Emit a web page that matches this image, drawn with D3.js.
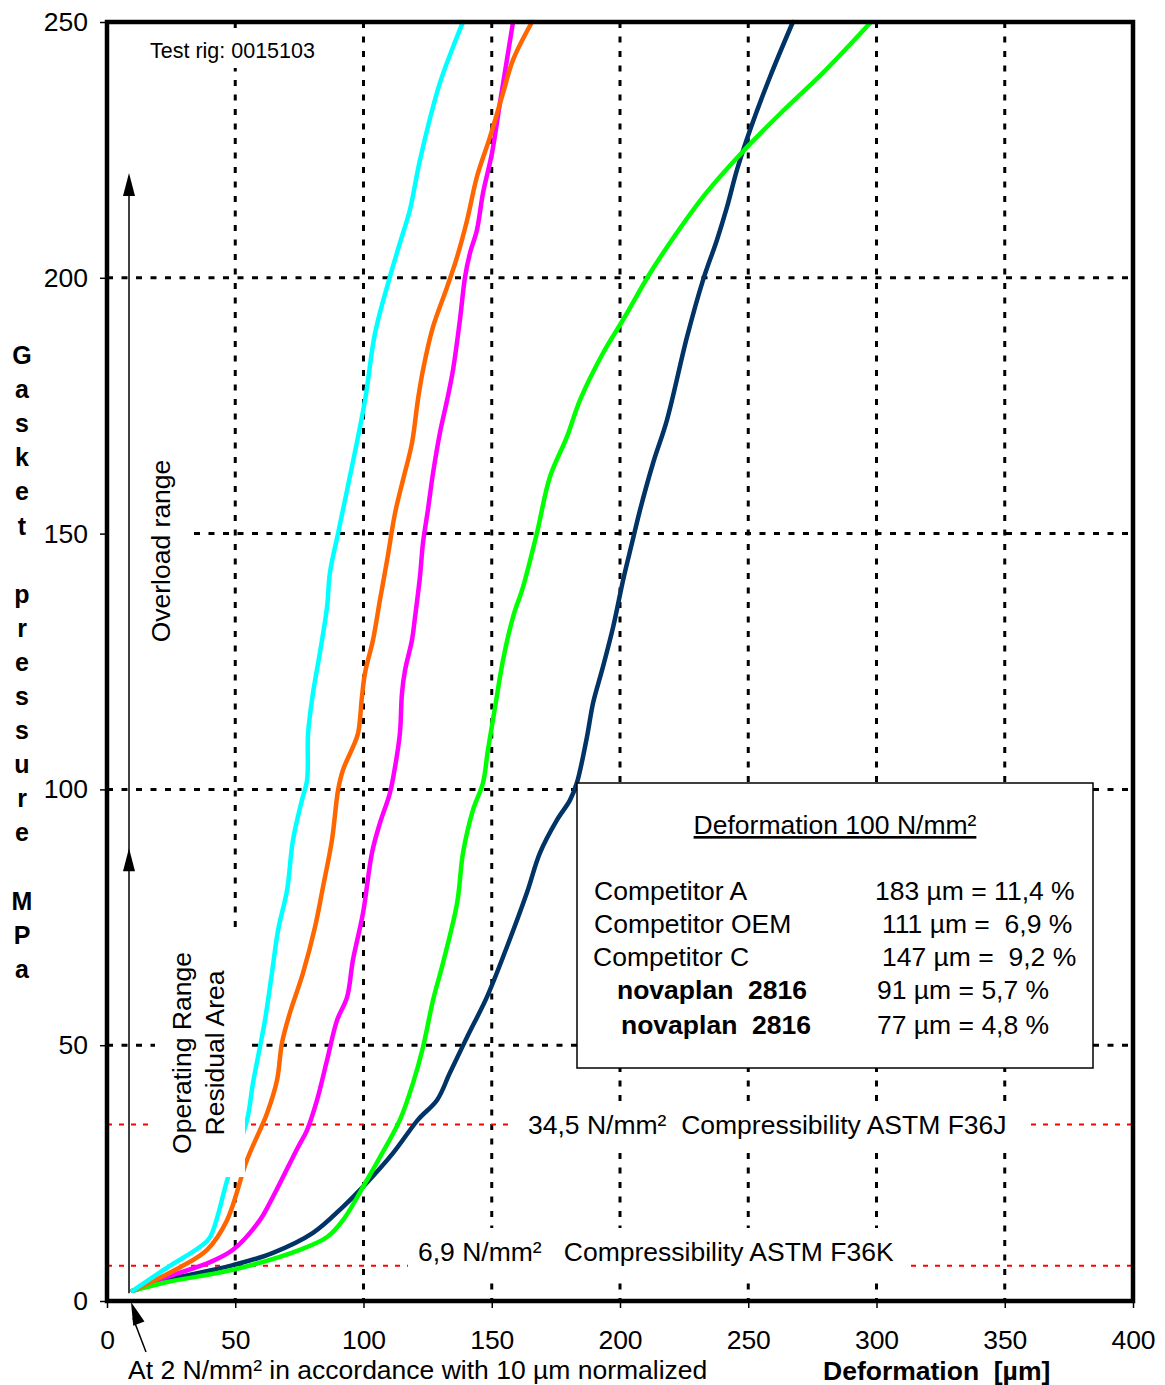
<!DOCTYPE html>
<html>
<head>
<meta charset="utf-8">
<script src="https://cdn.jsdelivr.net/npm/d3@7"></script>
<style>
  body { margin: 0; background: #fff; }
  svg text { font-family: "Liberation Sans", Arial, sans-serif; fill: #000; white-space: pre; }
</style>
</head>
<body>
<svg id="chart" width="1165" height="1385"></svg>
<script>
// deformation [µm] / gasket pressure [MPa]
var competitorA = [[10,2],[23.4,4.1],[49.1,7.0],[64.7,9.4],[80.3,13.3],[92.0,18.4],[99.8,22.3],[111.5,28.9],[121.2,35.4],[128.7,39.3],[133.7,44.6],[140.4,51.6],[148.1,59.4],[155.9,69.2],[163.7,79.8],[168.8,87.6],[175.4,94.0],[180.5,97.9],[183.2,101.3],[187.1,110.2],[189.5,116.9],[193.0,123.3],[197.3,131.7],[201.2,140.9],[204.7,148.2],[207.8,154.6],[212.9,163.8],[218.3,172.2],[226.1,188.4],[232.4,199.6],[237.8,207.4],[241.7,213.8],[245.6,221.1],[250.7,228.9],[258.5,239.3],[267.4,250]];
var competitorOEM = [[10,2],[23.4,4.7],[40.2,7.6],[49.1,10.0],[59.6,15.8],[63.5,19.2],[74.5,30.1],[78.0,33.4],[81.9,39.3],[85.8,47.1],[89.7,54.9],[93.6,59.4],[95.9,66.7],[99.8,75.8],[103.3,87.6],[106.4,93.4],[110.3,99.3],[112.3,104.4],[114.2,111.0],[115.0,118.8],[116.2,123.3],[118.9,129.2],[120.1,133.7],[122.0,141.5],[123.2,148.2],[125.1,154.6],[127.1,161.8],[129.8,169.7],[132.6,176.1],[134.9,182.0],[137.6,191.8],[139.6,200.2],[141.5,204.8],[144.2,209.3],[146.6,216.6],[150.1,224.4],[153.2,234.2],[155.9,242.6],[158.3,250]];
var competitorC = [[10,2],[23.4,3.7],[49.1,6.1],[75.2,10.0],[85.8,12.5],[92.0,15.8],[101.4,23.7],[106.4,28.1],[114.2,35.4],[119.3,42.6],[123.2,49.6],[127.1,58.8],[131.0,66.1],[136.5,77.8],[138.8,87.6],[142.7,96.0],[146.6,101.3],[148.5,107.7],[151.3,116.1],[154.4,125.3],[158.3,133.7],[162.2,139.6],[167.6,150.1],[172.7,161.1],[179.3,168.9],[184.4,176.1],[193.4,185.3],[201.2,191.8],[211.7,200.9],[221.5,208.3],[233.0,216.2],[247.0,224.2],[263.5,232.6],[279.0,240.0],[297.5,249.8]];
var novaplan91 = [[10,2],[28.5,6.6],[39.0,10.0],[46.8,15.8],[54.6,27.6],[62.4,36.7],[66.3,43.2],[68.2,50.4],[71.3,56.3],[76.4,64.1],[81.1,73.1],[84.2,80.9],[87.7,90.1],[90.1,99.9],[92.0,103.8],[95.9,108.3],[97.9,111.0],[99.4,118.1],[100.6,122.8],[103.7,129.2],[106.4,137.0],[109.2,144.8],[112.3,154.0],[115.4,160.5],[118.9,167.7],[121.2,176.1],[123.2,182.0],[127.1,190.4],[132.6,198.2],[136.5,204.1],[140.4,211.3],[144.2,219.7],[149.3,227.5],[154.4,236.1],[158.3,242.6],[165.7,250]];
var novaplan77 = [[10,2],[23.4,6.5],[36.3,10.6],[40.2,12.5],[47.2,24.2],[54.6,35.4],[56.9,42.6],[59.6,49.6],[61.6,54.9],[64.3,64.1],[66.7,72.5],[70.2,80.3],[72.5,90.1],[76.0,97.9],[78.0,101.8],[78.4,111.0],[80.3,118.8],[83.0,126.7],[85.8,135.7],[86.9,142.3],[90.1,150.1],[93.6,158.5],[100.6,176.1],[104.5,189.2],[110.3,200.2],[114.2,206.8],[118.1,213.3],[122.0,223.0],[129.8,238.1],[138.8,250]];

var seriesNames = ['Competitor A', 'Competitor OEM', 'Competitor C', 'novaplan  2816', 'novaplan  2816'];
var seriesColors = ['#003366', '#ff00ff', '#00ff00', '#ff6600', '#00ffff'];
var seriesData = [competitorA, competitorOEM, competitorC, novaplan91, novaplan77];
var seriesValues = ['183 µm = 11,4 %', '111 µm =  6,9 %', '147 µm =  9,2 %', '91 µm = 5,7 %', '77 µm = 4,8 %'];

var xTicks = [0, 50, 100, 150, 200, 250, 300, 350, 400];
var yTicks = [0, 50, 100, 150, 200, 250];
var refLines = [34.5, 6.9];

var FS = '26.5px';

var svg = d3.select('#chart');
var x = d3.scaleLinear().domain([0, 400]).range([107, 1133]);
var y = d3.scaleLinear().domain([0, 250]).range([1301, 22]);

// grid
var grid = svg.append('g');
grid.selectAll('line.v')
    .data(xTicks.slice(1, -1))
    .enter().append('line')
    .attr('x1', function(d) { return x(d); })
    .attr('x2', function(d) { return x(d); })
    .attr('y1', y(250)).attr('y2', y(0))
    .attr('stroke', '#000').attr('stroke-width', 3)
    .attr('stroke-dasharray', '6,8.5');
grid.selectAll('line.h')
    .data(yTicks.slice(1, -1))
    .enter().append('line')
    .attr('x1', x(0)).attr('x2', x(400))
    .attr('y1', function(d) { return y(d); })
    .attr('y2', function(d) { return y(d); })
    .attr('stroke', '#000').attr('stroke-width', 3)
    .attr('stroke-dasharray', '6,8.5');

// red reference lines (ASTM F36)
svg.append('g').selectAll('line')
    .data(refLines)
    .enter().append('line')
    .attr('x1', x(0)).attr('x2', x(400))
    .attr('y1', function(d) { return y(d); })
    .attr('y2', function(d) { return y(d); })
    .attr('stroke', '#ff0000').attr('stroke-width', 2)
    .attr('stroke-dasharray', '5,7');

// white backgrounds behind labels
function blank(x0, y0, x1, y1) {
    svg.append('rect').attr('x', x0).attr('y', y0)
        .attr('width', x1 - x0).attr('height', y1 - y0).attr('fill', '#fff');
}
blank(145, 30, 322, 68);
blank(109, 455, 187, 645);
blank(515, 1105, 1025, 1145);
blank(408, 1228, 905, 1280);

svg.append('text').attr('x', 150).attr('y', 58)
    .style('font-size', '21.5px').text('Test rig: 0015103');
svg.append('text').attr('x', 528).attr('y', 1134)
    .style('font-size', FS).text('34,5 N/mm²  Compressibility ASTM F36J');
svg.append('text').attr('x', 418).attr('y', 1261)
    .style('font-size', FS).text('6,9 N/mm²   Compressibility ASTM F36K');

// curves
var line = d3.line()
    .x(function(d) { return x(d[0]); })
    .y(function(d) { return y(d[1]); })
    .curve(d3.curveCatmullRom.alpha(0.5));

svg.append('g').selectAll('path')
    .data(seriesData)
    .enter().append('path')
    .attr('d', line)
    .attr('fill', 'none')
    .attr('stroke', function(d, i) { return seriesColors[i]; })
    .attr('stroke-width', 4.5)
    .attr('stroke-linejoin', 'round')
    .attr('stroke-linecap', 'round');

// range labels
blank(155, 928, 245, 1177);
svg.append('text')
    .attr('transform', 'translate(170,551) rotate(-90)')
    .attr('text-anchor', 'middle')
    .style('font-size', FS).text('Overload range');
svg.append('text')
    .attr('transform', 'translate(191,1053) rotate(-90)')
    .attr('text-anchor', 'middle')
    .style('font-size', FS).text('Operating Range');
svg.append('text')
    .attr('transform', 'translate(224,1053) rotate(-90)')
    .attr('text-anchor', 'middle')
    .style('font-size', FS).text('Residual Area');

// legend box
svg.append('rect')
    .attr('x', 577).attr('y', 783).attr('width', 516).attr('height', 285)
    .attr('fill', '#fff').attr('stroke', '#000').attr('stroke-width', 1.5);
svg.append('text').attr('x', 835).attr('y', 834)
    .attr('text-anchor', 'middle')
    .style('font-size', FS).style('text-decoration', 'underline')
    .text('Deformation 100 N/mm²');
var nameX = [594, 594, 593, 617, 621];
var valX = [875, 882, 882, 877, 877];
var rowY = [900, 933, 966, 999, 1034];
svg.append('g').selectAll('text')
    .data(seriesNames)
    .enter().append('text')
    .attr('x', function(d, i) { return nameX[i]; })
    .attr('y', function(d, i) { return rowY[i]; })
    .style('font-size', FS)
    .style('font-weight', function(d, i) { return i > 2 ? 'bold' : 'normal'; })
    .text(function(d) { return d; });
svg.append('g').selectAll('text')
    .data(seriesValues)
    .enter().append('text')
    .attr('x', function(d, i) { return valX[i]; })
    .attr('y', function(d, i) { return rowY[i]; })
    .style('font-size', FS)
    .text(function(d) { return d; });

// axes
var xAxis = svg.append('g')
    .attr('transform', 'translate(0,' + y(0) + ')')
    .call(d3.axisBottom(x).tickValues(xTicks).tickSize(7).tickPadding(22));
var yAxis = svg.append('g')
    .attr('transform', 'translate(' + x(0) + ',0)')
    .call(d3.axisLeft(y).tickValues(yTicks).tickSize(7).tickPadding(12));
[xAxis, yAxis].forEach(function(a) {
    a.select('.domain').remove();
    a.selectAll('line').attr('stroke', '#000').attr('stroke-width', 1.5);
    a.selectAll('text').style('font-size', FS)
        .style('font-family', '"Liberation Sans", Arial, sans-serif');
});

// frame
svg.append('rect')
    .attr('x', x(0)).attr('y', y(250))
    .attr('width', x(400) - x(0)).attr('height', y(0) - y(250))
    .attr('fill', 'none').attr('stroke', '#000').attr('stroke-width', 4.5);

// range arrows
function arrowHead(tx, ty, angle) {
    svg.append('path')
        .attr('d', 'M0,0 L-6,23 L6,23 Z')
        .attr('transform', 'translate(' + tx + ',' + ty + ') rotate(' + angle + ')')
        .attr('fill', '#000');
}
svg.append('line')
    .attr('x1', 129).attr('x2', 129)
    .attr('y1', y(1.5)).attr('y2', y(220) + 20)
    .attr('stroke', '#000').attr('stroke-width', 1.5);
arrowHead(129, y(220.5), 0);
arrowHead(129, y(88.5), 0);

// normalization note arrow
svg.append('line')
    .attr('x1', 146).attr('y1', 1352).attr('x2', 133).attr('y2', 1318)
    .attr('stroke', '#000').attr('stroke-width', 1.5);
arrowHead(131, 1302, -20);

svg.append('text').attr('x', 128).attr('y', 1379)
    .style('font-size', FS).text('At 2 N/mm² in accordance with 10 µm normalized');
svg.append('text').attr('x', 823).attr('y', 1380)
    .style('font-size', FS).style('font-weight', 'bold')
    .text('Deformation  [µm]');

// vertical stacked y title
var yTitle = 'Gasket pressure MPa'.split('');
svg.append('g').selectAll('text')
    .data(yTitle)
    .enter().append('text')
    .attr('x', 22)
    .attr('y', function(d, i) { return 364 + i * 34.1; })
    .attr('text-anchor', 'middle')
    .style('font-size', '25px').style('font-weight', 'bold')
    .text(function(d) { return d; });
</script>
</body>
</html>
